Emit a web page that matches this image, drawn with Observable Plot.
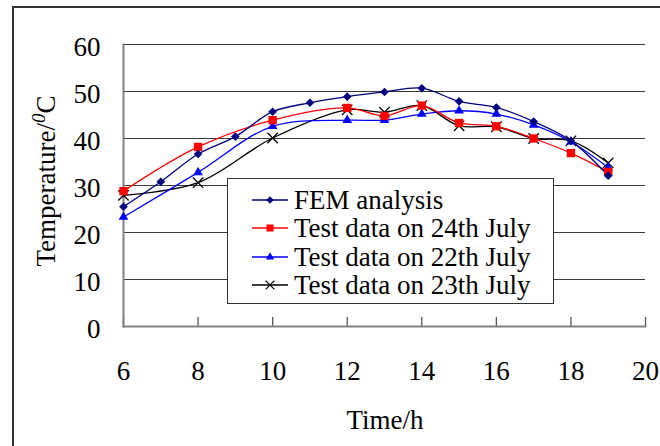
<!DOCTYPE html>
<html>
<head>
<meta charset="utf-8">
<script src="https://cdn.jsdelivr.net/npm/d3@7"></script>
<script src="https://cdn.jsdelivr.net/npm/@observablehq/plot@0.6"></script>
<style>
  html, body { margin: 0; padding: 0; background: #fff; }
  #wrap { position: relative; width: 660px; height: 446px; overflow: hidden; font-family: "Liberation Serif", serif; color: #000; }
  #outer { position: absolute; left: 12px; top: 6px; width: 700px; height: 500px; border: 2px solid #333; box-sizing: border-box; }
  #chart { position: absolute; left: 0; top: 0; }
  #chart svg text { font-family: "Liberation Serif", serif; }
  .lbl { position: absolute; font-family: "Liberation Serif", serif; font-size: 27px; white-space: nowrap; line-height: 1; }
  #ylab { left: 44px; top: 181px; transform: translate(-50%, -50%) rotate(-90deg); }
  #ylab sup { font-size: 19px; font-style: italic; vertical-align: 10px; }
  #xlab { left: 385px; top: 420px; transform: translate(-50%, -50%); }
  #legend { position: absolute; left: 227px; top: 178px; width: 327px; height: 126px; border: 1.5px solid #333; background: #fff; box-sizing: border-box; }
  .row { position: absolute; left: 24px; height: 28px; display: flex; align-items: center; font-family: "Liberation Serif", serif; font-size: 27px; white-space: nowrap; }
  .row svg { margin-right: 6px; }
</style>
</head>
<body>
<div id="wrap">
  <div id="outer"></div>
  <div id="chart"></div>
  <div id="ylab" class="lbl">Temperature/<sup>0</sup>C</div>
  <div id="xlab" class="lbl">Time/h</div>
  <div id="legend"></div>
</div>
<script>
// ---- data ----
const femHours = [6, 7, 8, 9, 10, 11, 12, 13, 14, 15, 16, 17, 18, 19];
const femAnalysis = [25.5, 30.8, 36.7, 40.4, 45.7, 47.6, 48.9, 49.9, 50.7, 47.9, 46.6, 43.6, 39.5, 32.1];
const testHours = [6, 8, 10, 12, 13, 14, 15, 16, 17, 18, 19];
const july24 = [28.8, 38.2, 43.9, 46.5, 44.8, 47.0, 43.3, 42.6, 40.0, 36.9, 32.9];
const july22 = [23.3, 32.8, 42.6, 43.9, 43.9, 45.2, 45.9, 45.2, 42.9, 39.3, 33.8];
const july23 = [27.9, 30.6, 40.1, 46.1, 45.6, 47.0, 42.7, 42.5, 40.0, 39.5, 34.8];
const seriesNames = ["FEM analysis", "Test data on 24th July", "Test data on 22th July", "Test data on 23th July"];
const xTicks = [6, 8, 10, 12, 14, 16, 18, 20];
const yTicks = [0, 10, 20, 30, 40, 50, 60];

const styles = [
  {color: "#000080", symbol: "diamond2", r: 3.9, fill: true},
  {color: "#ff0000", symbol: "square", r: 4.7, fill: true},
  {color: "#0000ff", symbol: "triangle", r: 3.6, fill: true},
  {color: "#000000", symbol: "times", r: 4.8, fill: false}
];

const seriesData = [
  femHours.map((h, i) => ({h, v: femAnalysis[i]})),
  testHours.map((h, i) => ({h, v: july24[i]})),
  testHours.map((h, i) => ({h, v: july22[i]})),
  testHours.map((h, i) => ({h, v: july23[i]}))
];

const dataMarks = [];
[3, 2, 1, 0].forEach(k => {
  const s = styles[k];
  dataMarks.push(Plot.line(seriesData[k], {x: "h", y: "v", stroke: s.color, strokeWidth: 1.3, curve: "catmull-rom"}));
});
[3, 2, 1, 0].forEach(k => {
  const s = styles[k];
  dataMarks.push(Plot.dot(seriesData[k], s.fill
    ? {x: "h", y: "v", symbol: () => s.symbol, r: s.r, fill: s.color, stroke: "none"}
    : {x: "h", y: "v", symbol: () => s.symbol, r: s.r, stroke: s.color, strokeWidth: 1.3, fill: "none"}));
});

const chart = Plot.plot({
  width: 660,
  height: 446,
  marginLeft: 123,
  marginRight: 15,
  marginTop: 44,
  marginBottom: 120,
  x: {domain: [6, 20]},
  y: {domain: [0, 60]},
  style: {fontFamily: "Liberation Serif", fontSize: "27px", color: "#000", background: "transparent", overflow: "visible"},
  marks: [
    Plot.gridY(yTicks, {stroke: "#3a3a3a", strokeOpacity: 1, strokeWidth: 1.2}),
    Plot.axisY(yTicks, {tickSize: 0, tickPadding: 23, dy: 3, label: null, fill: "#000", fontFamily: "Liberation Serif"}),
    Plot.axisX(xTicks, {tickSize: -9, tickPadding: 43, label: null, stroke: "#555", strokeWidth: 1.3, fill: "#000", fontFamily: "Liberation Serif"}),
    Plot.frame({anchor: "left", stroke: "#808080", strokeWidth: 2}),
    Plot.frame({anchor: "bottom", stroke: "#808080", strokeWidth: 2}),
    ...dataMarks
  ]
});
document.getElementById("chart").appendChild(chart);

// ---- legend ----
const legend = document.getElementById("legend");
const rowTops = [7, 35, 64, 92];
seriesNames.forEach((name, k) => {
  const s = styles[k];
  const row = document.createElement("div");
  row.className = "row";
  row.style.top = rowTops[k] + "px";
  const sym = d3.create("svg").attr("width", 36).attr("height", 14);
  sym.append("line").attr("x1", 0).attr("x2", 36).attr("y1", 7).attr("y2", 7).attr("stroke", s.color).attr("stroke-width", 1.3);
  const shape = {diamond2: d3.symbolDiamond2, square: d3.symbolSquare, triangle: d3.symbolTriangle, times: d3.symbolTimes}[s.symbol];
  const rr = s.r * 0.85;
  sym.append("path")
    .attr("transform", "translate(18,7)")
    .attr("d", d3.symbol(shape, Math.PI * rr * rr)())
    .attr("fill", s.fill ? s.color : "none")
    .attr("stroke", s.fill ? "none" : s.color)
    .attr("stroke-width", 1.2);
  row.appendChild(sym.node());
  const t = document.createElement("span");
  t.textContent = name;
  row.appendChild(t);
  legend.appendChild(row);
});
</script>
</body>
</html>
